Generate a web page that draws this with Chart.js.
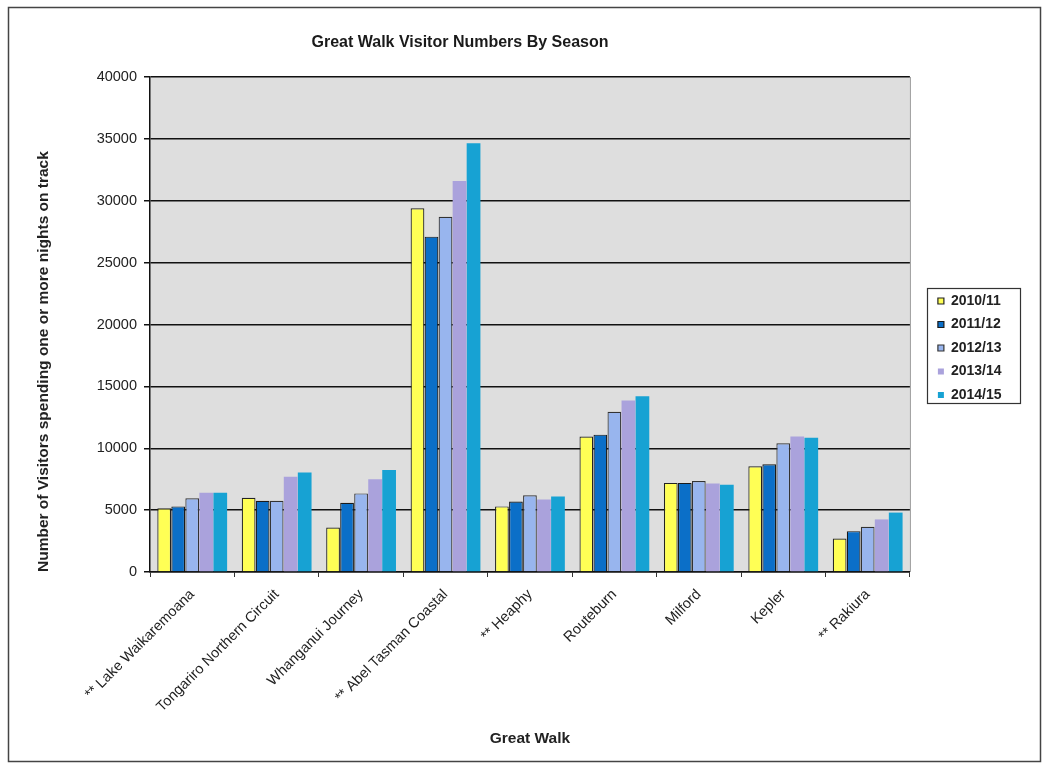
<!DOCTYPE html>
<html>
<head>
<meta charset="utf-8">
<title>Great Walk Visitor Numbers By Season</title>
<script src="https://cdn.jsdelivr.net/npm/chart.js@4.4.1/dist/chart.umd.min.js"></script>
<style>
  html, body { margin: 0; padding: 0; background: #ffffff; }
  #wrap { width: 1050px; height: 764px; position: relative; }
</style>
</head>
<body>
<div id="wrap"><canvas id="chart" width="1050" height="764"></canvas></div>
<script>
// Great Walks (** marks walks with partial counts)
const walks = [
  '** Lake Waikaremoana',
  'Tongariro Northern Circuit',
  'Whanganui Journey',
  '** Abel Tasman Coastal',
  '** Heaphy',
  'Routeburn',
  'Milford',
  'Kepler',
  '** Rakiura'
];

const seasons = ['2010/11', '2011/12', '2012/13', '2013/14', '2014/15'];

// Visitors spending one or more nights on track, per season
const season2010_11 = [5150, 6000, 3600, 29400, 5300, 10950, 7200, 8550, 2700];
const season2011_12 = [5300, 5750, 5600, 27100, 5700, 11100, 7200, 8700, 3300];
const season2012_13 = [5950, 5750, 6350, 28700, 6200, 12950, 7350, 10400, 3650];
const season2013_14 = [6400, 7700, 7500, 31600, 5850, 13850, 7150, 10950, 4250];
const season2014_15 = [6400, 8050, 8250, 34650, 6100, 14200, 7050, 10850, 4800];

const yTicks = [0, 5000, 10000, 15000, 20000, 25000, 30000, 35000, 40000];

const seriesValues = [season2010_11, season2011_12, season2012_13, season2013_14, season2014_15];
const seriesFill = ['#ffff55', '#0b6fc8', '#98b5ee', '#aaa2dc', '#17a2d3'];
const seriesEdge = ['#222222', '#1a1a1a', '#333333', '#aaa2dc', '#17a2d3'];
const seriesEdgeWidth = [1.2, 1.2, 1.2, 0, 0];

const FONT = '"Liberation Sans", Arial, Helvetica, sans-serif';

// Page frame, plot background, chart title and legend placement/border
const decor = {
  id: 'decor',
  afterLayout(chart) {
    // leave a gap between the plot and the legend box
    const lg = chart.legend;
    if (lg) { lg.left += 18.5; lg.right += 18.5; }
  },
  beforeDraw(chart) {
    const { ctx, chartArea: a } = chart;
    ctx.save();
    ctx.fillStyle = '#ffffff';
    ctx.fillRect(0, 0, chart.width, chart.height);
    ctx.strokeStyle = '#444444';
    ctx.lineWidth = 1.5;
    ctx.strokeRect(8.5, 7.5, 1032, 754);
    ctx.fillStyle = '#dedede';
    ctx.fillRect(a.left, a.top, a.right - a.left, a.bottom - a.top);
    ctx.strokeStyle = '#9a9a9a';
    ctx.lineWidth = 1;
    ctx.beginPath();
    ctx.moveTo(a.right + 0.5, a.top);
    ctx.lineTo(a.right + 0.5, a.bottom);
    ctx.stroke();
    ctx.fillStyle = '#1a1a1a';
    ctx.font = 'bold 16px ' + FONT;
    ctx.textAlign = 'center';
    ctx.textBaseline = 'middle';
    ctx.fillText('Great Walk Visitor Numbers By Season', 460, 43);
    ctx.restore();
  },
  afterDraw(chart) {
    const boxes = chart.legend && chart.legend.legendHitBoxes;
    if (!boxes || !boxes.length) return;
    let l = Infinity, t = Infinity, r = -Infinity, b = -Infinity;
    boxes.forEach(h => {
      l = Math.min(l, h.left); t = Math.min(t, h.top);
      r = Math.max(r, h.left + h.width); b = Math.max(b, h.top + h.height);
    });
    const { ctx } = chart;
    ctx.save();
    ctx.strokeStyle = '#333333';
    ctx.lineWidth = 1.2;
    const x0 = Math.round(l - 11), y0 = Math.round(t - 6);
    ctx.strokeRect(x0 + 0.5, y0 + 0.5, Math.round(r + 18) - x0, Math.round(b + 1) - y0);
    ctx.restore();
  }
};

new Chart(document.getElementById('chart'), {
  type: 'bar',
  data: {
    labels: walks,
    datasets: seasons.map((s, i) => ({
      label: s,
      data: seriesValues[i],
      backgroundColor: seriesFill[i],
      borderColor: seriesEdge[i],
      borderWidth: seriesEdgeWidth[i],
      categoryPercentage: 0.83,
      barPercentage: 0.98
    }))
  },
  options: {
    responsive: false,
    animation: false,
    devicePixelRatio: 1,
    layout: { padding: { top: 77, left: 8, right: 57, bottom: 6 } },
    plugins: {
      legend: {
        position: 'right',
        fullSize: false,
        title: { display: true, text: '', font: { size: 10 }, padding: { top: 35, bottom: 0 } },
        labels: {
          boxWidth: 6,
          boxHeight: 6,
          padding: 9.5,
          color: '#222222',
          font: { family: FONT, size: 14, weight: 'bold' }
        }
      },
      tooltip: { enabled: false }
    },
    scales: {
      x: {
        grid: { display: true, drawOnChartArea: false, drawTicks: true, tickLength: 5, color: '#333333', offset: true },
        border: { display: true, color: '#111111', width: 1.5 },
        ticks: {
          autoSkip: false,
          maxRotation: 45,
          minRotation: 45,
          padding: 9,
          color: '#222222',
          font: { family: FONT, size: 14.5 }
        },
        title: {
          display: true,
          text: 'Great Walk',
          color: '#222222',
          font: { family: FONT, size: 15.5, weight: 'bold' },
          padding: { top: 0, bottom: 10 }
        },
        afterFit(scale) { scale.height = 764 - 6 - 572; }
      },
      y: {
        min: 0,
        max: 40000,
        afterBuildTicks(scale) { scale.ticks = yTicks.map(v => ({ value: v })); },
        grid: { color: '#111111', lineWidth: 1.5, drawTicks: true, tickLength: 6 },
        border: { display: true, color: '#111111', width: 1.5 },
        ticks: {
          padding: 7,
          color: '#222222',
          font: { family: FONT, size: 14.5 },
          callback: v => String(v)
        },
        title: {
          display: true,
          text: 'Number of Visitors spending one or more nights on track',
          align: 'start',
          color: '#222222',
          font: { family: FONT, size: 15.5, weight: 'bold' },
          padding: { top: 26, bottom: 0 }
        },
        afterFit(scale) { scale.width = 150 - 8; }
      }
    }
  },
  plugins: [decor]
});
</script>
</body>
</html>
